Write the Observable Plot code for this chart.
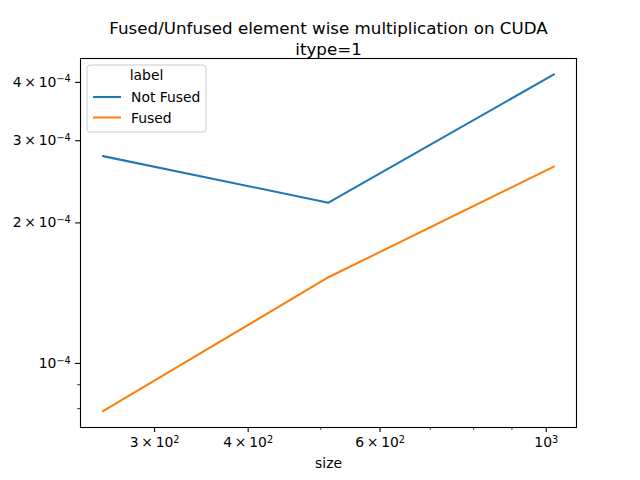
<!DOCTYPE html>
<html>
<head>
<meta charset="utf-8">
<script src="https://cdn.jsdelivr.net/npm/d3@7"></script>
<script src="https://cdn.jsdelivr.net/npm/@observablehq/plot@0.6"></script>
<style>
  html, body { margin: 0; padding: 0; background: white; }
  #chart { width: 640px; height: 480px; }
</style>
</head>
<body>
<div id="chart"></div>
<script>
const sizes = [256, 512, 1024];
const notFused = [2.78e-4, 2.21e-4, 4.16e-4];
const fused = [7.9e-5, 1.53e-4, 2.64e-4];
const seriesLabels = ["Not Fused", "Fused"];
const seriesColors = ["#1f77b4", "#ff7f0e"];
const xMajorTicks = [300, 400, 600, 1000];
const xMajorLabels = ["3\u2009×\u200910^2", "4\u2009×\u200910^2", "6\u2009×\u200910^2", "10^3"];
const xMinorTicks = [500, 700, 800, 900];
const yMajorTicks = [1e-4, 2e-4, 3e-4, 4e-4];
const yMajorLabels = ["10^\u22124", "2\u2009×\u200910^\u22124", "3\u2009×\u200910^\u22124", "4\u2009×\u200910^\u22124"];
const yMinorTicks = [8e-5, 9e-5];
const titleLines = ["Fused/Unfused element wise multiplication on CUDA", "itype=1"];
const xLabel = "size";
const legendTitle = "label";

const rows = [];
sizes.forEach((s, i) => {
  rows.push({size: s, time: notFused[i], label: seriesLabels[0]});
});
sizes.forEach((s, i) => {
  rows.push({size: s, time: fused[i], label: seriesLabels[1]});
});

const chart = Plot.plot({
  width: 640,
  height: 480,
  marginLeft: 80,
  marginRight: 64,
  marginTop: 58,
  marginBottom: 53,
  style: {fontFamily: "DejaVu Sans", fontSize: "13.9px", background: "white", color: "black"},
  x: {type: "log", domain: [238.9, 1097.5]},
  y: {type: "log", domain: [7.29e-5, 4.5e-4]},
  color: {domain: seriesLabels, range: seriesColors},
  marks: [
    Plot.line(rows, {x: "size", y: "time", stroke: "label", z: "label", strokeWidth: 2.08}),
    Plot.frame({stroke: "black", strokeWidth: 1.1}),
    Plot.axisX({ticks: xMajorTicks, tickFormat: d => xMajorLabels[xMajorTicks.indexOf(d)], tickSize: 4.9, tickPadding: 4.9, label: null, fontSize: 13.9, strokeWidth: 1.1}),
    Plot.axisX({ticks: xMinorTicks, tickFormat: () => "", tickSize: 2.8, label: null, strokeWidth: 0.83}),
    Plot.axisY({ticks: yMajorTicks, tickFormat: d => yMajorLabels[yMajorTicks.indexOf(d)], tickSize: 4.9, tickPadding: 4.9, label: null, fontSize: 13.9, strokeWidth: 1.1}),
    Plot.axisY({ticks: yMinorTicks, tickFormat: () => "", tickSize: 2.8, label: null, strokeWidth: 0.83}),
    Plot.text([titleLines[0]], {frameAnchor: "top", dy: -36, fontSize: 16.7}),
    Plot.text([titleLines[1]], {frameAnchor: "top", dy: -15, fontSize: 16.7}),
    Plot.text([xLabel], {frameAnchor: "bottom", dy: 40, fontSize: 13.9})
  ]
});

document.getElementById("chart").appendChild(chart);

// render "base^exp" tick labels with real superscripts
d3.select(chart).selectAll("text").each(function() {
  const t = this.textContent;
  const k = t.indexOf("^");
  if (k < 0) return;
  const sel = d3.select(this);
  sel.text(null);
  sel.append("tspan").text(t.slice(0, k));
  sel.append("tspan").attr("font-size", "9.7px").attr("dy", "-0.45em").text(t.slice(k + 1));
});

// legend (matplotlib style, upper left inside axes)
const svg = d3.select(chart);
const g = svg.append("g").attr("font-family", "DejaVu Sans").attr("font-size", "13.9px");
g.append("rect").attr("x", 87).attr("y", 65).attr("width", 119).attr("height", 67)
  .attr("rx", 3).attr("fill", "white").attr("fill-opacity", 0.8)
  .attr("stroke", "#cccccc").attr("stroke-width", 1);
g.append("text").attr("x", 146.5).attr("y", 75).attr("text-anchor", "middle")
  .attr("dominant-baseline", "central").attr("fill", "black").text(legendTitle);
seriesLabels.forEach((lab, i) => {
  const yy = 97 + i * 20.5;
  g.append("line").attr("x1", 93).attr("x2", 121).attr("y1", yy).attr("y2", yy)
    .attr("stroke", seriesColors[i]).attr("stroke-width", 2.08);
  g.append("text").attr("x", 131).attr("y", yy).attr("text-anchor", "start")
    .attr("dominant-baseline", "central").attr("fill", "black").text(lab);
});
</script>
</body>
</html>
